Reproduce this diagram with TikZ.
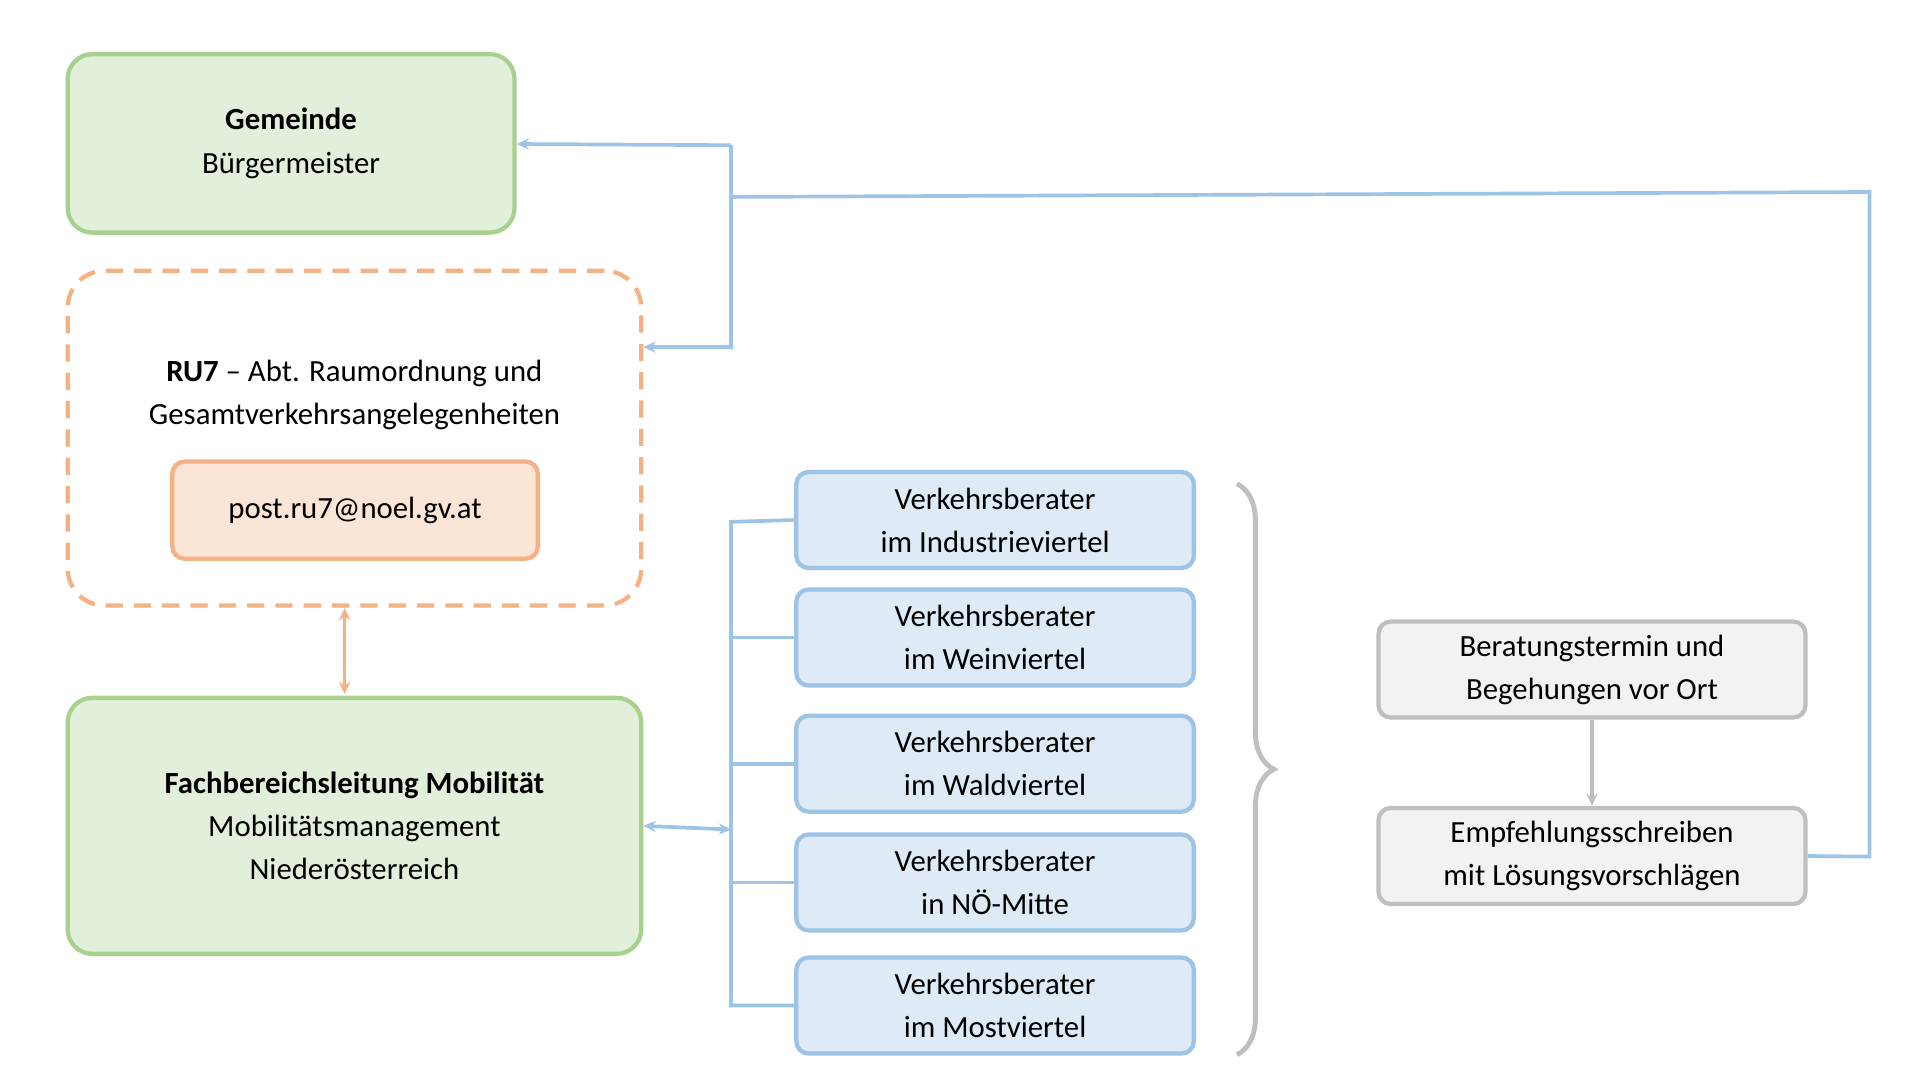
\documentclass[tikz,border=0pt]{standalone}
\usepackage{fontspec}
\setmainfont{Carlito}
\usetikzlibrary{arrows.meta,decorations.pathreplacing}
\definecolor{gfill}{HTML}{E2EFDA}\definecolor{gdraw}{HTML}{A9D18E}
\definecolor{ofill}{HTML}{FBE5D6}\definecolor{odraw}{HTML}{F4B183}
\definecolor{bfill}{HTML}{DEEBF7}\definecolor{bdraw}{HTML}{9DC3E6}
\definecolor{sfill}{HTML}{F2F2F2}\definecolor{sdraw}{HTML}{BFBFBF}
\begin{document}
\begin{tikzpicture}[x=1pt,y=-1pt,
 every node/.style={font=\fontsize{25}{35}\selectfont,align=center,inner sep=0},
 gbox/.style={draw=gdraw,fill=gfill,line width=3.5pt,rounded corners=20pt},
 vb/.style={draw=bdraw,fill=bfill,line width=3.5pt,rounded corners=10pt,minimum width=323pt,minimum height=78pt},
 sb/.style={draw=sdraw,fill=sfill,line width=3.5pt,rounded corners=10pt,minimum width=347pt,minimum height=78pt},
 bl/.style={draw=bdraw,line width=3pt},
 tip/.style={-{Stealth[length=10pt,width=9pt]}}]
\useasboundingbox (0,0) rectangle (1560,877.5);
\node[gbox,minimum width=363pt,minimum height=145pt] (gem) at (236.5,116.5) {\textbf{Gemeinde}\\Bürgermeister};
\node[draw=odraw,line width=3.5pt,dash pattern=on 14pt off 9pt,rounded corners=30pt,minimum width=466pt,minimum height=272pt] (ru) at (288,356) {};
\node (rut) at (288,321) {\textbf{RU7} – Abt. Raumordnung und\\Gesamtverkehrsangelegenheiten};
\node[draw=odraw,fill=ofill,line width=3.5pt,rounded corners=10pt,minimum width=297pt,minimum height=79pt] (mail) at (288.5,414.5) {post.ru7@noel.gv.at};
\node[gbox,minimum width=466pt,minimum height=208pt] (fach) at (288,671) {\textbf{Fachbereichsleitung Mobilität}\\Mobilitätsmanagement\\Niederösterreich};
\draw[draw=odraw,line width=3pt,{Stealth[length=10pt,width=9pt]}-{Stealth[length=10pt,width=9pt]}] (280,494) -- (280,564);
\node[vb] (v1) at (808.5,422.5) {Verkehrsberater\\im Industrieviertel};
\node[vb] (v2) at (808.5,518) {Verkehrsberater\\im Weinviertel};
\node[vb] (v3) at (808.5,620.5) {Verkehrsberater\\im Waldviertel};
\node[vb] (v4) at (808.5,717) {Verkehrsberater\\in NÖ-Mitte};
\node[vb] (v5) at (808.5,817) {Verkehrsberater\\im Mostviertel};
\coordinate (bt) at (594,424); \coordinate (bb) at (594,817);
\draw[bl] (v1.west) -- (bt) -- (bb) -- (v5.west);
\foreach \v in {v2,v3,v4} \draw[bl] (\v.west) -- (594,0 |- \v.west);
\draw[bl,{Stealth[length=10pt,width=9pt]}-{Stealth[length=10pt,width=9pt]}] (fach.east) -- (594,674);
\draw[draw=sdraw,line width=4pt,decorate,decoration={brace,amplitude=30pt}] (1005,393) -- (1005,857);
\node[sb] (ber) at (1293.5,544) {Beratungstermin und\\Begehungen vor Ort};
\node[sb] (emp) at (1293.5,695.5) {Empfehlungsschreiben\\mit Lösungsvorschlägen};
\draw[draw=sdraw,line width=3pt,tip] (ber) -- (emp);
\coordinate (c1) at (1519,696); \coordinate (c2) at (1519,156); \coordinate (c3) at (594,160);
\draw[bl] (emp.east) -- (c1) -- (c2) -- (c3);
\draw[bl,tip] (594,118) -- (594,282) -- (ru.east |- 0,282);
\draw[bl,tip] (594,118) -- (gem.east |- 0,117);
\end{tikzpicture}
\end{document}
